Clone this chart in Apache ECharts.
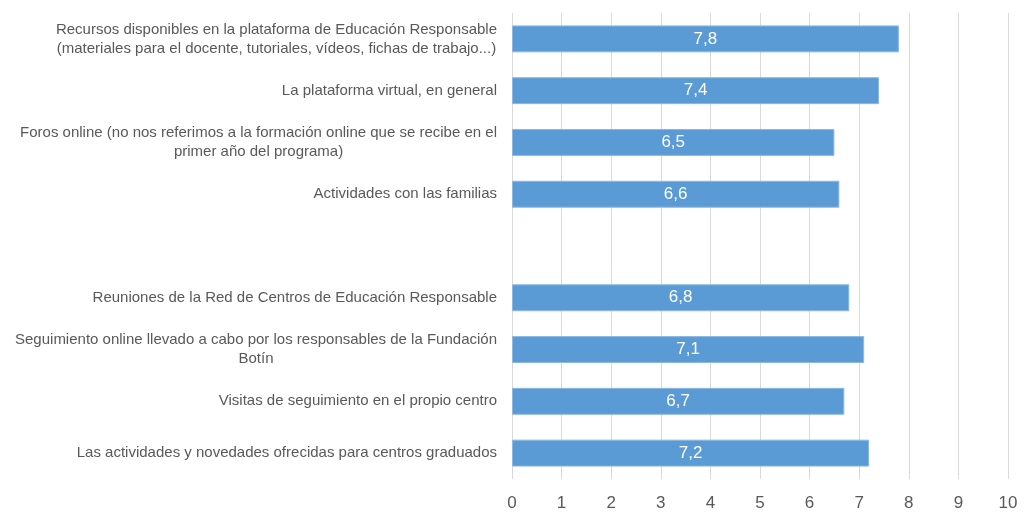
<!DOCTYPE html>
<html>
<head>
<meta charset="utf-8">
<script src="https://cdn.jsdelivr.net/npm/echarts@6/dist/echarts.min.js"></script>
<style>
  html, body { margin: 0; padding: 0; background: #fff; }
  #main { width: 1024px; height: 514px; }
</style>
</head>
<body>
<div id="main"></div>
<script>
// categorias (de arriba abajo), la vacía es el hueco entre grupos
var categorias = [
  'Recursos disponibles en la plataforma de Educación Responsable\n(materiales para el docente, tutoriales, vídeos, fichas de trabajo...)',
  'La plataforma virtual, en general',
  'Foros online (no nos referimos a la formación online que se recibe en el\nprimer año del programa)',
  'Actividades con las familias',
  '',
  'Reuniones de la Red de Centros de Educación Responsable',
  'Seguimiento online llevado a cabo por los responsables de la Fundación\nBotín',
  'Visitas de seguimiento en el propio centro',
  'Las actividades y novedades ofrecidas para centros graduados'
];
var valores = [7.8, 7.4, 6.5, 6.6, null, 6.8, 7.1, 6.7, 7.2];
var ticksX = [0, 1, 2, 3, 4, 5, 6, 7, 8, 9, 10];

var chart = echarts.init(document.getElementById('main'));
var option = {
  animation: false,
  grid: { left: 512, right: 16, top: 13, bottom: 35, containLabel: false },
  xAxis: {
    type: 'value',
    min: ticksX[0],
    max: ticksX[ticksX.length - 1],
    interval: 1,
    axisLine: { show: false },
    axisTick: { show: false },
    splitLine: { show: true, lineStyle: { color: '#d9d9d9', width: 1 } },
    axisLabel: { color: '#595959', fontSize: 17, margin: 16, fontFamily: 'Liberation Sans' }
  },
  yAxis: {
    type: 'category',
    inverse: true,
    data: categorias,
    axisLine: { show: false },
    axisTick: { show: false },
    axisLabel: {
      margin: 15,
      color: '#595959',
      fontSize: 15,
      fontFamily: 'Liberation Sans',
      lineHeight: 19,
      formatter: function (v) { return v ? '{c|' + v + '}' : ''; },
      rich: {
        c: { align: 'center', color: '#595959', fontSize: 15, fontFamily: 'Liberation Sans', lineHeight: 19 }
      }
    }
  },
  series: [{
    type: 'bar',
    data: valores,
    barWidth: '52%',
    itemStyle: { color: '#5b9bd5', borderColor: '#8cb8e2', borderWidth: 1 },
    label: {
      show: true,
      position: 'inside',
      color: '#ffffff',
      fontSize: 17,
      fontFamily: 'Liberation Sans',
      formatter: function (p) { return String(p.value).replace('.', ','); }
    }
  }]
};
chart.setOption(option);
</script>
</body>
</html>
